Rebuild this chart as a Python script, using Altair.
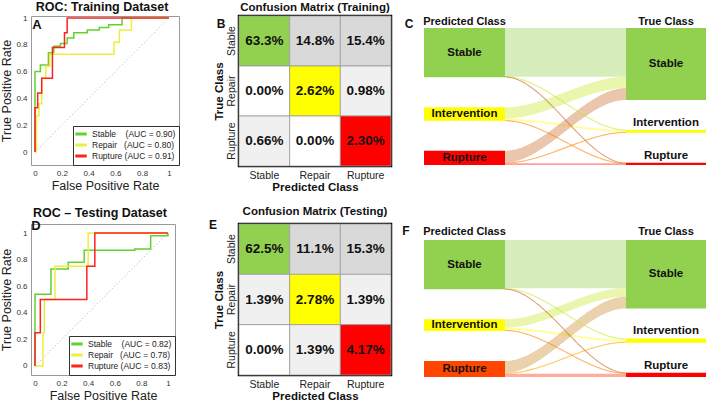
import altair as alt
import numpy as np
import pandas as pd

FONT = "Liberation Sans"

# ---------------- data ----------------
roc_classes = ["Stable", "Repair", "Rupture"]
roc_colors = ["#63D12F", "#EDED3F", "#FF2020"]
auc_train = [0.90, 0.80, 0.91]
auc_test = [0.82, 0.78, 0.83]

train_stable_fpr = [0, 0, 0.04, 0.04, 0.10, 0.10, 0.14, 0.14, 0.19, 0.19, 0.24, 0.24, 0.29, 0.29, 0.39, 0.39, 0.48, 0.48, 0.55, 0.55, 0.65, 0.65, 1.0]
train_stable_tpr = [0, 0.60, 0.60, 0.65, 0.65, 0.74, 0.74, 0.79, 0.79, 0.81, 0.81, 0.85, 0.85, 0.89, 0.89, 0.91, 0.91, 0.93, 0.93, 0.95, 0.95, 1.0, 1.0]
train_repair_fpr = [0, 0.01, 0.01, 0.03, 0.03, 0.05, 0.05, 0.08, 0.08, 0.11, 0.11, 0.59, 0.59, 0.63, 0.63, 0.72, 0.72, 1.0]
train_repair_tpr = [0, 0, 0.27, 0.27, 0.36, 0.36, 0.55, 0.55, 0.64, 0.64, 0.73, 0.73, 0.82, 0.82, 0.91, 0.91, 1.0, 1.0]
train_rupture_fpr = [0, 0, 0.02, 0.02, 0.05, 0.05, 0.13, 0.13, 0.22, 0.22, 0.24, 0.24, 1.0]
train_rupture_tpr = [0, 0.33, 0.33, 0.44, 0.44, 0.55, 0.55, 0.78, 0.78, 0.89, 0.89, 1.0, 1.0]

test_stable_fpr = [0, 0, 0.12, 0.12, 0.25, 0.25, 0.37, 0.37, 0.75, 0.75, 0.87, 0.87, 1.0, 1.0]
test_stable_tpr = [0, 0.54, 0.54, 0.73, 0.73, 0.78, 0.78, 0.87, 0.87, 0.88, 0.88, 0.98, 0.98, 1.0]
test_repair_fpr = [0, 0.06, 0.06, 0.07, 0.07, 0.15, 0.15, 0.40, 0.40, 1.0]
test_repair_tpr = [0, 0, 0.25, 0.25, 0.50, 0.50, 0.75, 0.75, 1.0, 1.0]
test_rupture_fpr = [0, 0, 0.04, 0.04, 0.39, 0.39, 0.45, 0.45, 1.0]
test_rupture_tpr = [0, 0.25, 0.25, 0.50, 0.50, 0.75, 0.75, 1.0, 1.0]

cm_classes = ["Stable", "Repair", "Rupture"]
cm_diag_colors = ["#92D050", "#FFFF00", "#FF0000"]
# rows = true class, columns = predicted class (percent)
cm_train = [[63.3, 14.8, 15.4],
            [0.00, 2.62, 0.98],
            [0.66, 0.00, 2.30]]
cm_test = [[62.5, 11.1, 15.3],
           [1.39, 2.78, 1.39],
           [0.00, 1.39, 4.17]]

sankey_nodes = ["Stable", "Intervention", "Rupture"]
sankey_colors = ["#92D050", "#FFFF00", "#FF0000"]
sankey_left_colors_test = ["#92D050", "#FFFF00", "#FF4500"]

PADS = {"Stable": "\u00a0" * 4, "Repair": "\u00a0" * 3, "Rupture": "\u00a0"}


# ---------------- ROC panel ----------------
def roc_panel(curves, aucs, title, letter, lpos, xdom, ydom, w, h, toff):
    labels = [f"{n}{PADS[n]}(AUC = {a:.2f})" for n, a in zip(roc_classes, aucs)]
    rows = []
    for lab, (fpr, tpr) in zip(labels, curves):
        for i, (xv, yv) in enumerate(zip(fpr, tpr)):
            rows.append({"series": lab, "fpr": xv, "tpr": yv, "ord": i})
    df = pd.DataFrame(rows)
    ticks = [0, 0.2, 0.4, 0.6, 0.8, 1]
    lab_expr = "datum.value == 0 ? '0' : (datum.value == 1 ? '1' : format(datum.value, '.1f'))"
    common = dict(values=ticks, labelExpr=lab_expr, grid=False, domain=False, ticks=False,
                  labelFontSize=8, labelColor="#333", titleFontSize=12.5,
                  titleFontWeight="normal", titleColor="#222")
    x = alt.X("fpr:Q", scale=alt.Scale(domain=xdom, nice=False, zero=False),
              axis=alt.Axis(title="False Positive Rate", labelPadding=4, titlePadding=2, **common))
    y = alt.Y("tpr:Q", scale=alt.Scale(domain=ydom, nice=False, zero=False),
              axis=alt.Axis(title="True Positive Rate", labelPadding=4, titlePadding=2, **common))
    color = alt.Color("series:N", scale=alt.Scale(domain=labels, range=roc_colors),
                      legend=alt.Legend(title=None, orient="bottom-right", offset=0, padding=3,
                                        strokeColor="#333", fillColor="white",
                                        labelFontSize=8.5, labelColor="#222", labelFont=FONT,
                                        symbolType="M-1.7,0H1.7", symbolStrokeWidth=3,
                                        symbolSize=45, rowPadding=-1, labelOffset=6,
                                        labelLimit=200))
    diag = alt.Chart(pd.DataFrame({"fpr": [0, 1], "tpr": [0, 1]})).mark_line(
        color="#b8b8b8", strokeDash=[1.5, 2], strokeWidth=0.8).encode(x=x, y=y)
    layers = [diag]
    for lab in labels:
        layers.append(alt.Chart(df).transform_filter(alt.datum.series == lab)
                      .mark_line(strokeWidth=1.5)
                      .encode(x=x, y=y, color=color, order="ord:Q"))
    letter_layer = alt.Chart(pd.DataFrame({"t": [letter]})).mark_text(
        fontWeight="bold", fontSize=13, align="center", baseline="middle", color="#111"
    ).encode(text="t:N", x=alt.value(lpos[0]), y=alt.value(lpos[1]))
    layers.append(letter_layer)
    return alt.layer(*layers).properties(
        width=w, height=h,
        title=alt.TitleParams(title, fontSize=12.5, fontWeight="bold", frame="group",
                              offset=toff, dx=-3, color="#111"),
        view=alt.ViewBackground(stroke="#999", strokeWidth=1))


# ---------------- Confusion matrix panel ----------------
def cm_panel(mat, title, letter, lpos, w, h, toff):
    rows = []
    for i, t in enumerate(cm_classes):
        for j, p in enumerate(cm_classes):
            v = mat[i][j]
            if i == j:
                fill = cm_diag_colors[i]
            elif v >= 5:
                fill = "#D9D9D9"
            elif v > 0:
                fill = "#F0F0F0"
            else:
                fill = "#FFFFFF"
            txt = f"{v:.1f}%" if v >= 10 else f"{v:.2f}%"
            rows.append({"true": t, "pred": p, "val": v, "txt": txt, "fill": fill})
    df = pd.DataFrame(rows)
    x = alt.X("pred:N", sort=cm_classes, scale=alt.Scale(paddingInner=0, paddingOuter=0),
              axis=alt.Axis(orient="bottom", title="Predicted Class", labelAngle=0, ticks=False,
                            domain=False, labelFontSize=10.5, labelColor="#222",
                            titleFontSize=11.5, titleFontWeight="bold", titleColor="#111",
                            labelPadding=4, titlePadding=1))
    y = alt.Y("true:N", sort=cm_classes, scale=alt.Scale(paddingInner=0, paddingOuter=0),
              axis=alt.Axis(title="True Class", labelAngle=270, ticks=False, domain=False,
                            labelFontSize=10.5, labelColor="#222", titleFontSize=11.5,
                            titleFontWeight="bold", titleColor="#111", labelPadding=3,
                            titlePadding=2))
    rect = alt.Chart(df).mark_rect(stroke="#9a9a9a", strokeWidth=0.8).encode(
        x=x, y=y, color=alt.Color("fill:N", scale=None))
    text = alt.Chart(df).mark_text(fontWeight="bold", fontSize=13.5, color="#111").encode(
        x=x, y=y, text="txt:N")
    letter_layer = alt.Chart(pd.DataFrame({"t": [letter]})).mark_text(
        fontWeight="bold", fontSize=12, align="center", baseline="middle", color="#111"
    ).encode(text="t:N", x=alt.value(lpos[0]), y=alt.value(lpos[1]))
    return alt.layer(rect, text, letter_layer).properties(
        width=w, height=h,
        title=alt.TitleParams(title, fontSize=11.5, fontWeight="bold", frame="group",
                              offset=toff, color="#111"),
        view=alt.ViewBackground(stroke="#000", strokeWidth=2.5))


# ---------------- Sankey panel ----------------
K = 0.77        # px per percent unit
GAP = 39.0      # gap between nodes (percent units)
SW = 256        # sankey panel width in px
XL = (-27, 54)  # left node column, px from panel origin
XR = (175, 255)  # right node column


def hex2rgb(c):
    c = c.lstrip("#")
    return [int(c[i:i + 2], 16) for i in (0, 2, 4)]


def mix(a, b):
    ra, rb = hex2rgb(a), hex2rgb(b)
    return "#" + "".join(f"{int(round((u + v) / 2)):02x}" for u, v in zip(ra, rb))


def sankey_panel(mat, left_colors, letter, lpos, w, h, top_px, hdr_y):
    n = len(sankey_nodes)
    src_tot = [sum(mat[t][p] for t in range(n)) for p in range(n)]
    tgt_tot = [sum(mat[t][p] for p in range(n)) for t in range(n)]

    def stack(tots):
        out, acc = [], 0.0
        for v in tots:
            out.append(acc)
            acc += v + GAP
        return out

    sy, ty = stack(src_tot), stack(tgt_tot)
    nodes = []
    for i, name in enumerate(sankey_nodes):
        nodes.append({"name": name, "x0": XL[0], "x1": XL[1], "y0": sy[i], "y1": sy[i] + src_tot[i],
                      "fill": left_colors[i], "xc": sum(XL) / 2, "yc": sy[i] + src_tot[i] / 2,
                      "small": False})
        nodes.append({"name": name, "x0": XR[0], "x1": XR[1], "y0": ty[i], "y1": ty[i] + tgt_tot[i],
                      "fill": sankey_colors[i], "xc": sum(XR) / 2, "yc": ty[i] + tgt_tot[i] / 2,
                      "small": bool(tgt_tot[i] * K < 10)})
    ndf = pd.DataFrame(nodes)

    L, R = XL[1], XR[0]
    cols = np.arange(L, R)
    src_off = [0.0] * n
    tgt_off = [0.0] * n
    seg_rows, line_rows = [], []
    fid = 0
    for p in range(n):
        for t in range(n):
            v = mat[t][p]
            ys0 = sy[p] + src_off[p]
            yt0 = ty[t] + tgt_off[t]
            src_off[p] += v
            tgt_off[t] += v
            col = mix(left_colors[p], sankey_colors[t])
            thin = v * K < 1.6
            if thin:
                for c in list(cols) + [R]:
                    u = (c - L) / (R - L)
                    s = 3 * u ** 2 - 2 * u ** 3
                    top = ys0 + (yt0 - ys0) * s
                    line_rows.append({"fid": fid, "x": float(c), "ymid": float(top + v / 2),
                                      "col": col})
            else:
                for c in cols:
                    u = (c + 0.5 - L) / (R - L)
                    s = 3 * u ** 2 - 2 * u ** 3
                    top = ys0 + (yt0 - ys0) * s
                    seg_rows.append({"fid": fid, "xa": float(c), "xb": float(c + 1),
                                     "ytop": float(top), "ybot": float(top + v), "col": col})
            fid += 1
    sdf = pd.DataFrame(seg_rows)
    ldf = pd.DataFrame(line_rows)

    ydom = [-top_px / K, (h - top_px) / K]
    xsc = alt.Scale(domain=[0, SW], nice=False, zero=False)
    ysc = alt.Scale(domain=ydom, nice=False, zero=False, reverse=True)

    bands = alt.Chart(sdf).mark_rect(opacity=0.38).encode(
        x=alt.X("xa:Q", scale=xsc, axis=None), x2="xb:Q",
        y=alt.Y("ytop:Q", scale=ysc, axis=None), y2="ybot:Q",
        color=alt.Color("col:N", scale=None))
    lines = alt.Chart(ldf).mark_line(strokeWidth=1.1, strokeOpacity=0.6).encode(
        x=alt.X("x:Q", scale=xsc, axis=None),
        y=alt.Y("ymid:Q", scale=ysc, axis=None),
        color=alt.Color("col:N", scale=None),
        detail="fid:N")
    rects = alt.Chart(ndf).mark_rect().encode(
        x=alt.X("x0:Q", scale=xsc, axis=None), x2="x1:Q",
        y=alt.Y("y0:Q", scale=ysc, axis=None), y2="y1:Q",
        color=alt.Color("fill:N", scale=None))
    lab_c = alt.Chart(ndf).transform_filter("!datum.small").mark_text(
        fontWeight="bold", fontSize=11.5, color="#111", baseline="middle").encode(
        x=alt.X("xc:Q", scale=xsc, axis=None), y=alt.Y("yc:Q", scale=ysc, axis=None), text="name:N")
    lab_s = alt.Chart(ndf).transform_filter("datum.small").mark_text(
        fontWeight="bold", fontSize=11.5, color="#111", baseline="bottom", dy=-2).encode(
        x=alt.X("xc:Q", scale=xsc, axis=None), y=alt.Y("y0:Q", scale=ysc, axis=None), text="name:N")
    hdr = pd.DataFrame({"t": ["Predicted Class", "True Class"], "xc": [sum(XL) / 2, sum(XR) / 2]})
    hdr_layer = alt.Chart(hdr).mark_text(fontWeight="bold", fontSize=11, color="#111",
                                         baseline="middle").encode(
        x=alt.X("xc:Q", scale=xsc, axis=None), y=alt.value(hdr_y), text="t:N")
    letter_layer = alt.Chart(pd.DataFrame({"t": [letter]})).mark_text(
        fontWeight="bold", fontSize=12, align="center", baseline="middle", color="#111"
    ).encode(text="t:N", x=alt.value(lpos[0]), y=alt.value(lpos[1]))
    return alt.layer(bands, lines, rects, lab_c, lab_s, hdr_layer, letter_layer).properties(
        width=w, height=h, view=alt.ViewBackground(stroke="transparent", strokeWidth=0))


A = roc_panel([(train_stable_fpr, train_stable_tpr), (train_repair_fpr, train_repair_tpr),
               (train_rupture_fpr, train_rupture_tpr)], auc_train, "ROC: Training Dataset", "A",
              (6, 9), [-0.03, 1.075], [-0.097, 1.015], 148, 149, 1)
D = roc_panel([(test_stable_fpr, test_stable_tpr), (test_repair_fpr, test_repair_tpr),
               (test_rupture_fpr, test_rupture_tpr)], auc_test, "ROC \u2013 Testing Dataset", "D",
              (5, 2), [-0.03, 1.053], [-0.068, 1.068], 144, 151, 1)
B = cm_panel(cm_train, "Confusion Matrix (Training)", "B", (-18, 8), 152, 150, 2)
E = cm_panel(cm_test, "Confusion Matrix (Testing)", "E", (-26, 1), 152, 151, 2)
C = sankey_panel(cm_train, sankey_colors, "C", (-42, 8), SW, 151, 12, 6)
F = sankey_panel(cm_test, sankey_left_colors_test, "F", (-45, 7), SW, 155, 16, 8)

chart = alt.concat(A, B, C, D, E, F, columns=3, spacing={"row": 57, "column": 60},
                   bounds="flush").resolve_scale(color="independent").resolve_legend(
    color="independent").properties(
    padding={"left": 0, "top": 0, "right": 0, "bottom": 0},
).configure(font=FONT).configure_view(stroke="#999")

chart.save("out.html", embed_options={"renderer": "svg", "actions": False})
